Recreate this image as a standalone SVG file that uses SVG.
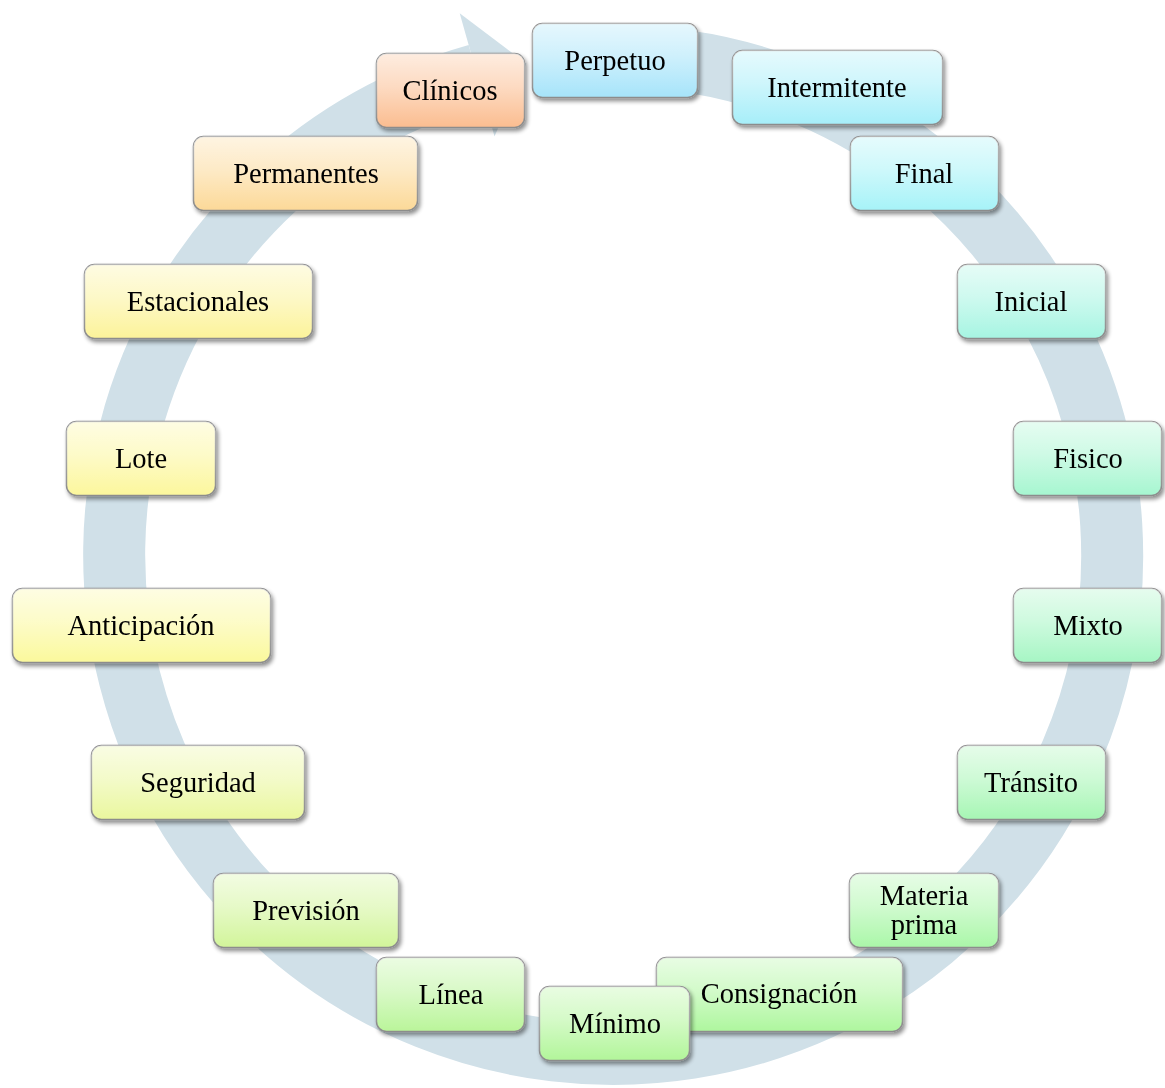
<svg xmlns="http://www.w3.org/2000/svg" width="1165" height="1088" viewBox="0 0 1165 1088">
<defs>
<linearGradient id="gloss" x1="0" y1="0" x2="0" y2="1">
<stop offset="0" stop-color="#ffffff" stop-opacity="0.72"/>
<stop offset="0.45" stop-color="#ffffff" stop-opacity="0.45"/>
<stop offset="1" stop-color="#ffffff" stop-opacity="0"/>
</linearGradient>
<filter id="shadow" x="-10%" y="-15%" width="125%" height="140%">
<feGaussianBlur in="SourceAlpha" stdDeviation="2.2"/>
<feOffset dx="1.5" dy="3" result="b"/>
<feComponentTransfer><feFuncA type="linear" slope="0.45"/></feComponentTransfer>
<feMerge><feMergeNode/><feMergeNode in="SourceGraphic"/></feMerge>
</filter>
</defs>
<style>
.box{stroke:#8c8c8c;stroke-width:1.5}
.gl{fill:url(#gloss)}
.lbl{font-family:"Liberation Serif","Times New Roman",serif;font-size:28.5px;fill:#000;text-anchor:middle}
.ring{fill:none;stroke:#d0e0e8;stroke-width:62}
.head{fill:#d0e0e8}
</style>
<rect width="1165" height="1088" fill="#ffffff"/>
<g id="connectors">
<path class="ring" d="M595.6,56.3 A499,499 0 1 1 477.1,74.9"/>
<polygon class="head" points="459.7,13.3 526.3,63.6 494.5,136.4"/>
</g>
<g id="node-perpetuo" filter="url(#shadow)">
<rect class="box" x="532.5" y="23.5" width="165" height="74" rx="10" fill="#a6e4fa"/>
<rect class="gl" x="532.5" y="23.5" width="165" height="74" rx="10"/>
<text class="lbl" x="615" y="70">Perpetuo</text>
</g>
<g id="node-intermitente" filter="url(#shadow)">
<rect class="box" x="732.5" y="50.5" width="210" height="74" rx="10" fill="#a6eef9"/>
<rect class="gl" x="732.5" y="50.5" width="210" height="74" rx="10"/>
<text class="lbl" x="837" y="97">Intermitente</text>
</g>
<g id="node-final" filter="url(#shadow)">
<rect class="box" x="850.5" y="136.5" width="148" height="74" rx="10" fill="#a6f3f8"/>
<rect class="gl" x="850.5" y="136.5" width="148" height="74" rx="10"/>
<text class="lbl" x="924" y="183">Final</text>
</g>
<g id="node-inicial" filter="url(#shadow)">
<rect class="box" x="957.5" y="264.5" width="148" height="74" rx="10" fill="#a6f5e2"/>
<rect class="gl" x="957.5" y="264.5" width="148" height="74" rx="10"/>
<text class="lbl" x="1031" y="311">Inicial</text>
</g>
<g id="node-fisico" filter="url(#shadow)">
<rect class="box" x="1013.5" y="421.5" width="148" height="74" rx="10" fill="#a6f6d0"/>
<rect class="gl" x="1013.5" y="421.5" width="148" height="74" rx="10"/>
<text class="lbl" x="1088" y="468">Fisico</text>
</g>
<g id="node-mixto" filter="url(#shadow)">
<rect class="box" x="1013.5" y="588.5" width="148" height="74" rx="10" fill="#a6f6c4"/>
<rect class="gl" x="1013.5" y="588.5" width="148" height="74" rx="10"/>
<text class="lbl" x="1088" y="635">Mixto</text>
</g>
<g id="node-transito" filter="url(#shadow)">
<rect class="box" x="957.5" y="745.5" width="148" height="74" rx="10" fill="#a6f6b4"/>
<rect class="gl" x="957.5" y="745.5" width="148" height="74" rx="10"/>
<text class="lbl" x="1031" y="792">Tránsito</text>
</g>
<g id="node-materia-prima" filter="url(#shadow)">
<rect class="box" x="849.5" y="873.5" width="149" height="74" rx="10" fill="#aaf7a8"/>
<rect class="gl" x="849.5" y="873.5" width="149" height="74" rx="10"/>
<text class="lbl" x="924" y="905">Materia</text>
<text class="lbl" x="924" y="934">prima</text>
</g>
<g id="node-consignacion" filter="url(#shadow)">
<rect class="box" x="656.5" y="957.5" width="246" height="74" rx="10" fill="#aef79e"/>
<rect class="gl" x="656.5" y="957.5" width="246" height="74" rx="10"/>
<text class="lbl" x="779" y="1003">Consignación</text>
</g>
<g id="node-minimo" filter="url(#shadow)">
<rect class="box" x="539.5" y="986.5" width="150" height="74" rx="10" fill="#b2f69a"/>
<rect class="gl" x="539.5" y="986.5" width="150" height="74" rx="10"/>
<text class="lbl" x="615" y="1033">Mínimo</text>
</g>
<g id="node-linea" filter="url(#shadow)">
<rect class="box" x="376.5" y="957.5" width="148" height="74" rx="10" fill="#baf59a"/>
<rect class="gl" x="376.5" y="957.5" width="148" height="74" rx="10"/>
<text class="lbl" x="451" y="1004">Línea</text>
</g>
<g id="node-prevision" filter="url(#shadow)">
<rect class="box" x="213.5" y="873.5" width="185" height="74" rx="10" fill="#d2f59a"/>
<rect class="gl" x="213.5" y="873.5" width="185" height="74" rx="10"/>
<text class="lbl" x="306" y="920">Previsión</text>
</g>
<g id="node-seguridad" filter="url(#shadow)">
<rect class="box" x="91.5" y="745.5" width="213" height="74" rx="10" fill="#eaf79e"/>
<rect class="gl" x="91.5" y="745.5" width="213" height="74" rx="10"/>
<text class="lbl" x="198" y="792">Seguridad</text>
</g>
<g id="node-anticipacion" filter="url(#shadow)">
<rect class="box" x="12.5" y="588.5" width="258" height="74" rx="10" fill="#fbf99c"/>
<rect class="gl" x="12.5" y="588.5" width="258" height="74" rx="10"/>
<text class="lbl" x="141" y="635">Anticipación</text>
</g>
<g id="node-lote" filter="url(#shadow)">
<rect class="box" x="66.5" y="421.5" width="149" height="74" rx="10" fill="#fcf79c"/>
<rect class="gl" x="66.5" y="421.5" width="149" height="74" rx="10"/>
<text class="lbl" x="141" y="468">Lote</text>
</g>
<g id="node-estacionales" filter="url(#shadow)">
<rect class="box" x="84.5" y="264.5" width="228" height="74" rx="10" fill="#fcf39a"/>
<rect class="gl" x="84.5" y="264.5" width="228" height="74" rx="10"/>
<text class="lbl" x="198" y="311">Estacionales</text>
</g>
<g id="node-permanentes" filter="url(#shadow)">
<rect class="box" x="193.5" y="136.5" width="224" height="74" rx="10" fill="#fcd998"/>
<rect class="gl" x="193.5" y="136.5" width="224" height="74" rx="10"/>
<text class="lbl" x="306" y="183">Permanentes</text>
</g>
<g id="node-clinicos" filter="url(#shadow)">
<rect class="box" x="376.5" y="53.5" width="148" height="74" rx="10" fill="#fbbd90"/>
<rect class="gl" x="376.5" y="53.5" width="148" height="74" rx="10"/>
<text class="lbl" x="450" y="100">Clínicos</text>
</g>
</svg>
